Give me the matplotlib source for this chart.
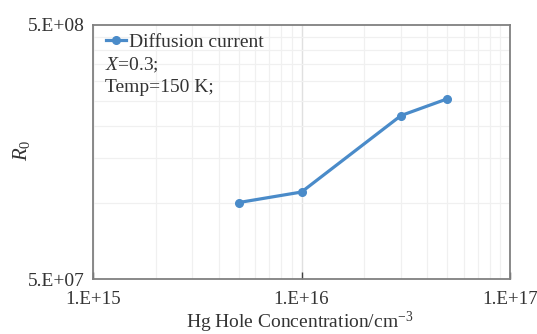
import matplotlib
matplotlib.use("Agg")
import matplotlib.pyplot as plt
from matplotlib.ticker import FixedLocator, FixedFormatter, LogLocator, NullFormatter

# ---- data ----
hole_conc = [5e15, 1e16, 3e16, 5e16]
r0_values = [1.0e8, 1.1e8, 2.2e8, 2.56e8]
series_name = "Diffusion current"
x_ticks = [1e15, 1e16, 1e17]
x_tick_labels = ["1.E+15", "1.E+16", "1.E+17"]
y_ticks = [5e7, 5e8]
y_tick_labels = ["5.E+07", "5.E+08"]
y_minor = [1e8, 1.5e8, 2e8, 2.5e8, 3e8, 3.5e8, 4e8, 4.5e8]

plt.rcParams['font.family'] = ['Liberation Serif', 'DejaVu Serif']
plt.rcParams['mathtext.fontset'] = 'custom'
plt.rcParams['mathtext.rm'] = 'Liberation Serif'
plt.rcParams['mathtext.it'] = 'Liberation Serif:italic'

W, H = 537, 334
fig = plt.figure(figsize=(W/100, H/100), dpi=100)
ax = fig.add_axes([93/W, 1 - 279/H, (510-93)/W, (279-25)/H])

color = '#4a8bc9'
ax.plot(hole_conc, r0_values, '-o', color=color, lw=2.3, ms=5.5, label=series_name)

ax.set_xscale('log')
ax.set_yscale('log')
ax.set_xlim(1e15, 1e17)
ax.set_ylim(5e7, 5e8)

ax.xaxis.set_major_locator(FixedLocator(x_ticks))
ax.xaxis.set_major_formatter(FixedFormatter(x_tick_labels))
ax.xaxis.set_minor_locator(LogLocator(base=10, subs=range(2, 10)))
ax.xaxis.set_minor_formatter(NullFormatter())
ax.yaxis.set_major_locator(FixedLocator(y_ticks))
ax.yaxis.set_major_formatter(FixedFormatter(y_tick_labels))
ax.yaxis.set_minor_locator(FixedLocator(y_minor))
ax.yaxis.set_minor_formatter(NullFormatter())

ax.grid(True, which='minor', color='#f0f0f0', lw=0.9)
ax.grid(True, which='major', axis='x', color='#e0e0e0', lw=1.0)
ax.set_axisbelow(True)

for s in ax.spines.values():
    s.set_color('#808080')
    s.set_linewidth(1.3)

txt = '#333333'
ax.tick_params(axis='x', which='major', direction='in', length=5, width=1, color='#404040',
               labelsize=13.6, pad=9, labelcolor=txt)
ax.tick_params(axis='y', which='major', length=0, labelsize=14, pad=6, labelcolor=txt)
ax.tick_params(which='minor', length=0)

fig.text(300/W, 1 - 322/H, 'Hg Hole Concentration/cm$^{-3}$', fontsize=14, color=txt,
         ha='center', va='center')
fig.text(22/W, 1 - 150/H, '$R_0$', fontsize=15, color=txt, rotation=90,
         ha='center', va='center')

leg = ax.legend(loc='center left', bbox_to_anchor=(0.031, 1 - (42-25)/254),
                frameon=False, fontsize=14, handlelength=1.05,
                handletextpad=0.12, borderaxespad=0.0, borderpad=0.0)
for t in leg.get_texts():
    t.set_color(txt)

ax.text((105-93)/(510-93), 1 - (65-25)/254, '$X$=0.3;', transform=ax.transAxes,
        fontsize=14, color=txt, va='center')
ax.text((105-93)/(510-93), 1 - (87-25)/254, 'Temp=150 K;', transform=ax.transAxes,
        fontsize=14, color=txt, va='center')

fig.savefig('out.png', dpi=100)
